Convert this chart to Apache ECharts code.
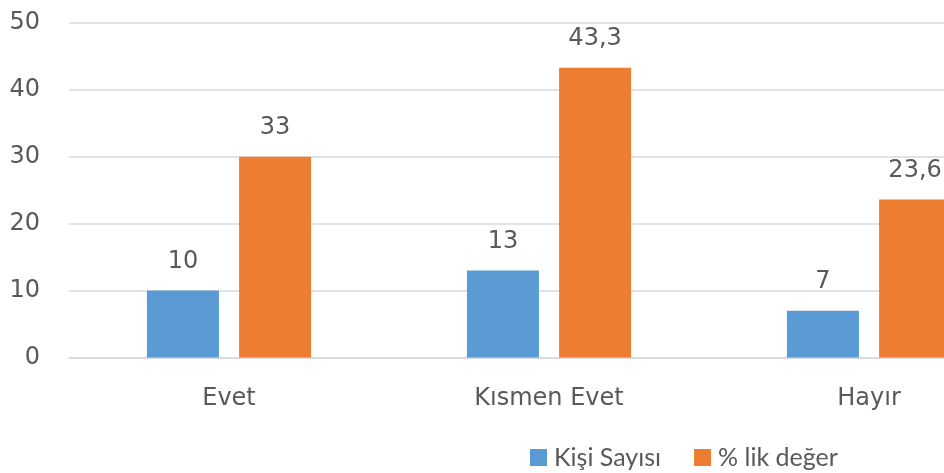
<!DOCTYPE html>
<html>
<head>
    <meta charset="utf-8">
    <title>Kişi Sayısı / % lik değer</title>
    <script src="https://cdn.jsdelivr.net/npm/echarts@6.0.0/dist/echarts.min.js"></script>
    <style>
        html, body { margin: 0; padding: 0; background: #fff; overflow: hidden; }
        /* grafik sağdan kesik: kap pencereden geniş */
        #chart { width: 1029px; height: 473px; }
    </style>
</head>
<body>
<div id="chart"></div>
<script>
    // veriler
    var categories = ['Evet', 'Kısmen Evet', 'Hayır'];
    var kisiSayisi = [10, 13, 7];
    var yuzdeDeger = [30, 43.3, 23.6];
    // grafikte yazan etiketler (Evet çubuğu 30'da, etiketi 33)
    var kisiLabels = ['10', '13', '7'];
    var yuzdeLabels = ['33', '43,3', '23,6'];
    var yTicks = [0, 10, 20, 30, 40, 50];

    var chart = echarts.init(document.getElementById('chart'));
    var textColor = '#595959';
    var font = 'DejaVu Sans';

    var option = {
        animation: false,
        grid: { left: 69, right: 0, top: 23, bottom: 115.5 },
        legend: {
            left: 525,
            top: 440,
            itemWidth: 17,
            itemHeight: 17,
            itemGap: 33,
            icon: 'rect',
            textStyle: { color: textColor, fontFamily: 'Lato', fontSize: 25, padding: [0, 0, 0, 2] },
            data: ['Kişi Sayısı', '% lik değer']
        },
        xAxis: {
            type: 'category',
            data: categories,
            axisLine: { lineStyle: { color: '#d9d9d9', width: 1.5 } },
            axisTick: { show: false },
            axisLabel: { color: textColor, fontFamily: font, fontSize: 24, margin: 29 }
        },
        yAxis: {
            type: 'value',
            min: yTicks[0],
            max: yTicks[yTicks.length - 1],
            interval: 10,
            axisLine: { show: false },
            axisTick: { show: false },
            splitLine: { lineStyle: { color: '#d9d9d9', width: 1.5 } },
            axisLabel: { color: textColor, fontFamily: font, fontSize: 24, margin: 29 }
        },
        series: [
            {
                name: 'Kişi Sayısı',
                type: 'bar',
                data: kisiSayisi,
                barWidth: 72,
                barGap: '28%',
                itemStyle: { color: '#5b9bd5' },
                label: {
                    show: true,
                    position: 'top',
                    distance: 17,
                    color: textColor,
                    fontFamily: font,
                    fontSize: 24,
                    formatter: function (p) { return kisiLabels[p.dataIndex]; }
                }
            },
            {
                name: '% lik değer',
                type: 'bar',
                data: yuzdeDeger,
                barWidth: 72,
                itemStyle: { color: '#ed7d31' },
                label: {
                    show: true,
                    position: 'top',
                    distance: 17,
                    color: textColor,
                    fontFamily: font,
                    fontSize: 24,
                    formatter: function (p) { return yuzdeLabels[p.dataIndex]; }
                }
            }
        ]
    };

    chart.setOption(option);
</script>
</body>
</html>
